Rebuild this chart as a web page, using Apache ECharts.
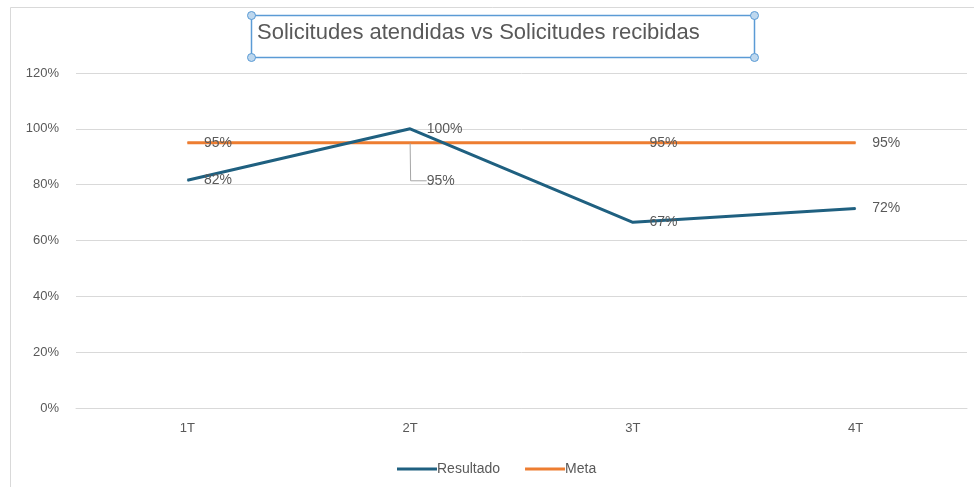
<!DOCTYPE html>
<html>
<head>
<meta charset="utf-8">
<title>Solicitudes atendidas vs Solicitudes recibidas</title>
<script src="https://cdn.jsdelivr.net/npm/echarts@6/dist/echarts.min.js"></script>
<style>
  html, body { margin: 0; padding: 0; background: #ffffff; }
  #chart { width: 974px; height: 487px; }
</style>
</head>
<body>
<div id="chart"></div>
<script>
// datos del trimestre
const trimestres = ['1T', '2T', '3T', '4T'];
const resultado = [81.6, 100, 66.5, 71.5];
const meta = [95, 95, 95, 95];
const ejeY = { min: 0, max: 120, paso: 20 };

const gris = '#595959';
const fuente = '"Liberation Sans", Arial, sans-serif';

const chart = echarts.init(document.getElementById('chart'));

// la etiqueta de la meta en 2T va desplazada hacia abajo con linea guia
const metaData = meta.map((v, i) => i === 1
  ? {
      value: v,
      label: { width: 80, backgroundColor: 'rgba(255,255,255,0)' },
      labelLine: { show: true, length2: 16 }
    }
  : v);

const option = {
  backgroundColor: '#ffffff',
  textStyle: { fontFamily: fuente },
  title: {
    text: 'Solicitudes atendidas vs Solicitudes recibidas',
    left: 257,
    top: 22,
    padding: 0,
    textStyle: { fontSize: 22, fontWeight: 'normal', color: gris, fontFamily: fuente }
  },
  graphic: [
    {
      type: 'rect',
      z: -10,
      shape: { x: 10.5, y: 7.5, width: 1200, height: 1200 },
      style: { fill: 'none', stroke: '#d9d9d9', lineWidth: 1 }
    },
    {
      type: 'group',
      left: 247,
      top: 11,
      children: [
        { type: 'rect', shape: { x: 4, y: 4, width: 503, height: 42 },
          style: { fill: 'none', stroke: '#5b9bd5', lineWidth: 1.5 } },
        { type: 'circle', shape: { cx: 4, cy: 4, r: 4 }, style: { fill: '#bdd7ee', stroke: '#5b9bd5', lineWidth: 1 } },
        { type: 'circle', shape: { cx: 507, cy: 4, r: 4 }, style: { fill: '#bdd7ee', stroke: '#5b9bd5', lineWidth: 1 } },
        { type: 'circle', shape: { cx: 4, cy: 46, r: 4 }, style: { fill: '#bdd7ee', stroke: '#5b9bd5', lineWidth: 1 } },
        { type: 'circle', shape: { cx: 507, cy: 46, r: 4 }, style: { fill: '#bdd7ee', stroke: '#5b9bd5', lineWidth: 1 } }
      ]
    }
  ],
  legend: {
    left: 392,
    top: 457,
    icon: 'rect',
    itemWidth: 40,
    itemHeight: 3,
    itemGap: 25,
    textStyle: { fontSize: 14, color: gris, fontFamily: fuente, padding: [0, 0, 0, -5] },
    data: ['Resultado', 'Meta']
  },
  grid: { left: 76, right: 7, top: 73, bottom: 79 },
  xAxis: {
    type: 'category',
    data: trimestres,
    boundaryGap: true,
    axisLine: { lineStyle: { color: '#d9d9d9' } },
    axisTick: { show: false },
    axisLabel: { color: gris, fontSize: 13, margin: 14 }
  },
  yAxis: {
    type: 'value',
    min: ejeY.min,
    max: ejeY.max,
    interval: ejeY.paso,
    axisLine: { show: false },
    axisTick: { show: false },
    axisLabel: { color: gris, fontSize: 13, margin: 17, formatter: '{value}%' },
    splitLine: { lineStyle: { color: '#d9d9d9' } }
  },
  series: [
    {
      name: 'Resultado',
      type: 'line',
      data: resultado,
      symbol: 'circle',
      symbolSize: 1,
      showSymbol: true,
      z: 3,
      lineStyle: { width: 3, color: '#1f6080' },
      itemStyle: { color: '#1f6080' },
      label: {
        show: true,
        position: 'right',
        distance: 16,
        fontSize: 14,
        color: gris,
        formatter: p => Math.round(p.value) + '%'
      }
    },
    {
      name: 'Meta',
      type: 'line',
      data: metaData,
      symbol: 'circle',
      symbolSize: 1,
      showSymbol: true,
      z: 2,
      lineStyle: { width: 3, color: '#ed7d31' },
      itemStyle: { color: '#ed7d31' },
      label: {
        show: true,
        position: 'right',
        distance: 16,
        fontSize: 14,
        color: gris,
        formatter: p => Math.round(p.value) + '%'
      },
      labelLine: { show: false, lineStyle: { color: '#a6a6a6', width: 1 } },
      labelLayout: function (params) {
        if (params.dataIndex === 1) {
          return { dy: 38 };
        }
        return {};
      }
    }
  ]
};

chart.setOption(option);
</script>
</body>
</html>
